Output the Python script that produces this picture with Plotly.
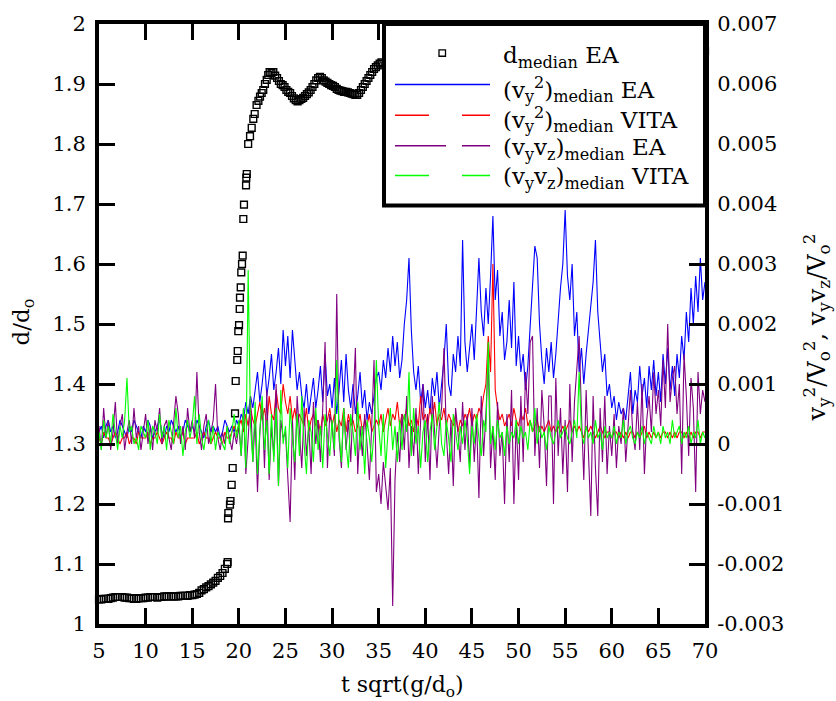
import numpy as np
import plotly.graph_objects as go

FONT = "DejaVu Serif"

# ---------------- data ----------------
# d_median EA (left axis)
D_T_FLAT = np.arange(5.0, 18.76, 0.25)
D_FLAT = [1.041, 1.041, 1.042, 1.042, 1.042, 1.043, 1.044, 1.045, 1.045, 1.045,
          1.045, 1.044, 1.044, 1.043, 1.043, 1.042, 1.042, 1.043, 1.043, 1.043,
          1.044, 1.044, 1.045, 1.045, 1.045, 1.044, 1.045, 1.045, 1.046, 1.046,
          1.046, 1.046, 1.046, 1.046, 1.046, 1.047, 1.047, 1.047, 1.047, 1.048,
          1.048, 1.049, 1.050, 1.052, 1.056, 1.058, 1.061, 1.063, 1.066, 1.069,
          1.072, 1.077, 1.080, 1.085, 1.092, 1.100]
D_T_RISE = [18.8, 18.84, 18.87, 19.05, 19.1, 19.23, 19.34, 19.59, 19.66, 19.83,
            19.88, 19.94, 20.02, 20.09, 20.12, 20.2, 20.26, 20.34, 20.41, 20.48,
            20.55, 20.77, 20.8, 20.85]
D_RISE = [1.103, 1.176, 1.185, 1.199, 1.205, 1.232, 1.26, 1.351, 1.405, 1.44,
          1.455, 1.488, 1.498, 1.525, 1.544, 1.561, 1.586, 1.6, 1.614, 1.675,
          1.699, 1.731, 1.744, 1.75]
D_T_PLAT = [21.0, 21.2, 21.38, 21.55, 21.7, 21.9, 22.1, 22.27, 22.45, 22.62,
            22.8, 22.99, 23.15, 23.3, 23.5, 23.7, 23.9, 24.1, 24.3, 24.5,
            24.7, 24.9, 25.1, 25.3, 25.5, 25.7, 25.9, 26.1, 26.3, 26.5,
            26.7, 26.9, 27.1, 27.3, 27.5, 27.7, 27.9, 28.1, 28.3, 28.5,
            28.7, 28.9, 29.1, 29.3, 29.5, 29.7, 29.9, 30.1, 30.3, 30.5,
            30.7, 30.9, 31.1, 31.3, 31.5, 31.7, 31.9, 32.1, 32.3, 32.5,
            32.7, 32.9, 33.1, 33.3, 33.5, 33.7, 33.9, 34.1, 34.3, 34.5,
            34.7, 34.9, 35.1, 35.3]
D_PLAT = [1.80, 1.813, 1.827, 1.842, 1.85, 1.865, 1.872, 1.879, 1.885, 1.89,
          1.90, 1.907, 1.915, 1.92, 1.918, 1.92, 1.914, 1.91, 1.905, 1.90,
          1.898, 1.895, 1.89, 1.887, 1.885, 1.88, 1.876, 1.873, 1.871, 1.873,
          1.875, 1.877, 1.88, 1.883, 1.886, 1.89, 1.895, 1.90, 1.906, 1.91,
          1.912, 1.91, 1.906, 1.904, 1.902, 1.90, 1.898, 1.897, 1.895, 1.892,
          1.89, 1.889, 1.888, 1.887, 1.887, 1.886, 1.885, 1.884, 1.883, 1.882,
          1.882, 1.885, 1.89, 1.895, 1.90, 1.905, 1.91, 1.915, 1.92, 1.925,
          1.928, 1.931, 1.934, 1.936]
D_T_LATE = np.arange(36.0, 70.01, 1.0)
D_LATE = [1.938, 1.94, 1.942, 1.94, 1.943, 1.945, 1.944, 1.946, 1.948, 1.947,
          1.945, 1.948, 1.95, 1.949, 1.951, 1.95, 1.952, 1.95, 1.953, 1.952,
          1.951, 1.953, 1.954, 1.952, 1.953, 1.955, 1.954, 1.953, 1.955, 1.956,
          1.954, 1.955, 1.956, 1.955, 1.955]

D_T = list(D_T_FLAT) + D_T_RISE + D_T_PLAT + list(D_T_LATE)
D_VAL = D_FLAT + D_RISE + D_PLAT + D_LATE

# velocity statistics (right axis), in units of 1e-4, sampled every 0.25 from t=5
T_START, T_STEP, UNIT = 5.0, 0.25, 1e-4
BLUE = [2, 3, 1, 3, 4, 2, 3, 1, 2, 4, 3, 2, 1, 3, 2, 4, 3, 2, 1, 3,
        2, 4, 3, 1, 2, 3, 4, 2, 1, 3, 2, 4, 3, 2, 3, 1, 2, 4, 3, 2,
        3, 2, 4, 3, 2, 1, 3, 4, 2, 3, 2, 3, 1, 2, 4, 3, 2, 3, 2, 4,
        3, 5, 4, 7, 5, 8, 6, 9, 12, 7, 10, 14, 8, 11, 15, 9, 12, 16, 10, 19,
        13, 18, 11, 19, 14, 9, 12, 8, 6, 10, 5, 8, 11, 6, 9, 13, 7, 15, 8, 10,
        6, 11, 5, 9, 14, 7, 15, 9, 6, 10, 5, 8, 12, 6, 9, 4, 7, 5, 8, 11,
        12, 9, 14, 11, 16, 12, 18, 13, 17, 11, 14, 20, 24, 31, 19, 12, 9, 13, 7, 10,
        6, 9, 5, 11, 8, 12, 6, 10, 14, 20, 10, 8, 15, 12, 18, 13, 34, 17, 12, 16,
        20, 14, 24, 31, 22, 18, 26, 20, 28, 38, 24, 29, 18, 22, 14, 17, 24, 16, 27, 13,
        18, 12, 15, 9, 13, 20, 26, 33, 31, 20, 14, 10, 16, 12, 17, 11, 15, 21, 26, 30,
        39, 28, 24, 30, 18, 22, 12, 16, 10, 15, 19, 24, 27, 34, 22, 17, 12, 15, 8, 10,
        6, 8, 4, 7, 5, 6, 4, 8, 12, 5, 9, 7, 13, 8, 11, 6, 13, 9, 14, 8,
        12, 7, 15, 10, 16, 9, 13, 8, 15, 11, 18, 14, 22, 17, 26, 20, 28, 22, 31, 24,
        27]
RED = [1, 0, 2, 1, 1, 0, 1, 2, 1, 0, 1, 1, 2, 0, 1, 1, 0, 2, 1, 1,
       1, 2, 0, 1, 1, 2, 1, 0, 1, 2, 1, 1, 0, 2, 1, 1, 2, 0, 1, 1,
       1, 1, 2, 0, 1, 2, 1, 1, 0, 1, 2, 1, 1, 0, 2, 1, 1, 2, 3, 2,
       3, 4, 2, 5, 3, 6, 4, 3, 5, 7, 4, 6, 3, 8, 5, 4, 9, 6, 5, 10,
       7, 5, 8, 4, 6, 3, 5, 4, 3, 6, 2, 4, 5, 3, 4, 2, 5, 3, 4, 6,
       3, 5, 2, 4, 3, 6, 2, 5, 3, 4, 2, 3, 5, 2, 4, 3, 5, 2, 3, 4,
       3, 5, 2, 4, 6, 3, 5, 4, 7, 3, 5, 4, 6, 3, 4, 2, 5, 3, 8, 4,
       5, 3, 6, 4, 7, 3, 5, 4, 6, 3, 5, 4, 3, 5, 2, 4, 3, 5, 4, 6,
       3, 5, 4, 6, 5, 8, 10, 18, 12, 30, 9, 6, 4, 5, 3, 4, 5, 3, 6, 4,
       3, 5, 4, 6, 3, 4, 2, 3, 4, 2, 3, 2, 3, 4, 2, 3, 2, 3, 2, 3,
       2, 3, 4, 2, 3, 2, 3, 2, 1, 3, 2, 3, 2, 1, 2, 3, 2, 1, 2, 2,
       1, 2, 2, 1, 2, 1, 2, 1, 2, 2, 1, 2, 1, 2, 3, 1, 2, 1, 2, 1,
       2, 1, 2, 2, 1, 2, 1, 2, 1, 2, 2, 1, 2, 1, 2, 1, 2, 2, 1, 2,
       2]
PURPLE = [3, -1, 6, 1, 4, -1, 2, 7, 0, 3, 5, -1, 2, 4, 0, 6, 1, 3, -1, 2,
          5, 0, 3, -1, 4, 2, 6, 0, 3, 4, 1, -1, 4, 8, 5, 0, 3, -1, 6, 2,
          4, 1, 12, 2, -1, 3, 5, 0, 2, 4, 10, 1, -1, 2, 0, 3, 1, -1, 2, 0,
          3, -2, 6, -5, 1, 8, -3, 4, -8, 2, 7, -4, 9, -6, 3, -2, 10, -7, 4, 1,
          2, -5, -13, 4, -6, 8, 2, -4, 6, -2, 3, -5, 7, 0, 4, -3, 6, 17, -4, 5,
          3, -2, 25, 1, -4, 6, -1, 4, -3, 7, 16, -5, 3, -2, 5, 0, -6, 3, 14, -8,
          -5, -10, -3, -7, -11, -4, -27, -6, 2, -3, 5, -1, 8, -4, 3, -2, 6, -5, 4, 10,
          -3, 5, -6, 8, 1, -4, 3, 6, 16, 2, -5, 4, -7, 6, 2, -3, 7, -1, 5, -4,
          6, -3, 4, -9, 8, -2, 5, 14, -4, 3, -6, 7, -2, 2, -10, 5, -3, 9, -10, 4,
          -6, 8, -3, 12, 5, 17, 18, -2, 6, -4, 9, 3, -7, 8, 8, -10, 11, -2, 6, -5,
          4, -8, 10, -3, 7, 12, 18, 5, -6, 9, -2, -12, 8, -4, -12, 6, -3, 8, -5, 3,
          -2, 5, -4, 3, 0, 6, -3, 4, 9, 2, -1, 7, -1, 10, -5, 4, 8, 2, 12, 5,
          9, 3, 14, 6, 20, 7, 11, 13, 5, 10, -5, 15, 8, -2, 11, 6, -8, 12, 5, 9,
          7]
GREEN = [2, -1, 4, 1, 3, 0, 5, 2, -1, 3, 1, 4, 11, 2, 3, 0, 1, -1, 3, 2,
         1, 4, -1, 3, 2, 0, 5, 1, 3, -1, 4, 2, 0, 6, 1, 3, -2, 2, 4, 1,
         3, 8, 0, 5, 1, -1, 2, 4, 0, 3, -1, 2, 1, 0, -1, 3, 0, 2, 5, 1,
         4, -2, 6, -4, 29, 3, -3, 7, -5, 2, 8, -1, 4, -5, 5, -3, 6, -7, 9, 0,
         3, -4, 6, 1, -3, 5, -2, 8, 0, -5, 4, 2, -3, 6, -1, 3, -4, 5, 1, -2,
         4, -1, 14, 2, -3, 6, 0, -4, 5, 2, -2, 7, -1, 3, -5, 4, 1, -3, 2, 14,
         3, -2, 5, -4, 2, 6, -1, 3, -3, 4, -1, 5, 2, 12, -2, 6, 0, 3, -4, 2,
         4, -3, 2, 5, -1, 3, 7, 0, -2, 4, 1, -3, 5, 2, -1, 3, 0, 4, 1, -5,
         3, 0, 5, 1, -2, 4, 2, 17, 0, 3, -1, 4, 1, 2, -2, 3, 0, 2, 1, 4,
         0, 3, 1, 2, -1, 4, 2, 6, 0, 3, 1, 2, -1, 3, 1, 0, 2, 4, 1, 2,
         3, 1, 0, 2, 4, 1, 12, 2, 0, 3, 1, 2, 0, 4, 1, 2, -1, 3, 1, 2,
         1, 3, 0, 2, 1, 4, 0, 2, 3, 1, 0, 2, 1, 3, 0, 2, 1, 0, 3, 1,
         2, 0, 3, 1, 2, 0, 4, 1, 2, 3, 0, 2, 1, 3, 0, 2, 1, 4, 0, 2,
         1]

X_TICKS = [5, 10, 15, 20, 25, 30, 35, 40, 45, 50, 55, 60, 65, 70]
Y_TICKS = [1.0, 1.1, 1.2, 1.3, 1.4, 1.5, 1.6, 1.7, 1.8, 1.9, 2.0]
Y_LABELS = ["1", "1.1", "1.2", "1.3", "1.4", "1.5", "1.6", "1.7", "1.8", "1.9", "2"]
Y2_TICKS = [-0.003, -0.002, -0.001, 0.0, 0.001, 0.002, 0.003, 0.004, 0.005, 0.006, 0.007]
Y2_LABELS = ["-0.003", "-0.002", "-0.001", "0", "0.001", "0.002", "0.003",
             "0.004", "0.005", "0.006", "0.007"]

SERIES = [
    ("(v<sub>y</sub><sup>2</sup>)<sub>median</sub> EA", BLUE, "#0000ff", None),
    ("(v<sub>y</sub><sup>2</sup>)<sub>median</sub> VITA", RED, "#ff0000", "34px,33px"),
    ("(v<sub>y</sub>v<sub>z</sub>)<sub>median</sub> EA", PURPLE, "#800080", "51px,16px"),
    ("(v<sub>y</sub>v<sub>z</sub>)<sub>median</sub> VITA", GREEN, "#00ff00", "34px,33px"),
]
FS_TICK, FS_LEG, FS_XT, FS_YT, FS_Y2T = 21, 23, 22, 23, 24

# ---------------- figure ----------------
T = T_START + T_STEP * np.arange(len(BLUE))
fig = go.Figure()
fig.add_trace(go.Scatter(
    x=D_T, y=D_VAL, mode="markers", name="d<sub>median</sub> EA", yaxis="y",
    cliponaxis=False,
    marker=dict(symbol="square-open", size=6.8, color="black",
                line=dict(width=1.4, color="black"))))
for name, vals, col, dash in SERIES:
    fig.add_trace(go.Scatter(
        x=T, y=np.array(vals) * UNIT, mode="lines", name=name, yaxis="y2",
        line=dict(color=col, width=1.1)))

axis_common = dict(ticks="inside", ticklen=16, tickwidth=3, tickcolor="black",
                   showline=True, linewidth=4, linecolor="black",
                   showgrid=False, zeroline=False,
                   tickfont=dict(family=FONT, size=FS_TICK, color="black"))

fig.update_layout(
    width=836, height=701,
    margin=dict(l=99, r=131, t=19, b=77),
    paper_bgcolor="white", plot_bgcolor="white",
    font=dict(family=FONT, size=FS_TICK, color="black"),
    showlegend=False,
    xaxis=dict(range=[5, 70], tickvals=X_TICKS, ticktext=[str(v) for v in X_TICKS],
               mirror="ticks", ticklabelstandoff=5, **axis_common),
    yaxis=dict(range=[1, 2], tickvals=Y_TICKS, ticktext=Y_LABELS,
               ticklabelstandoff=5, **axis_common),
    yaxis2=dict(range=[-0.003, 0.007], tickvals=Y2_TICKS, ticktext=Y2_LABELS,
                overlaying="y", side="right", ticklabelstandoff=4, **axis_common),
)

# plot-area geometry in pixels (for placing the hand-drawn legend box)
PX0, PX1, PY0, PY1 = 99, 705, 19, 624
def px(x):
    return (x - PX0) / (PX1 - PX0)
def py(y):
    return (PY1 - y) / (PY1 - PY0)

shapes = [dict(type="rect", xref="paper", yref="paper", x0=px(384), x1=1.0,
               y0=py(202), y1=1.0, line=dict(color="black", width=4),
               fillcolor="white", layer="above")]
# legend symbol: square marker
shapes.append(dict(type="rect", xref="paper", yref="paper",
                   x0=px(439), x1=px(445.5), y0=py(51.5), y1=py(45),
                   line=dict(color="black", width=1.3), fillcolor="white", layer="above"))
row_line_y = [80, 111, 141.7, 171.7]
for (name, vals, col, dash), yy in zip(SERIES, row_line_y):
    ln = dict(color=col, width=1.5)
    if dash:
        ln["dash"] = dash
    shapes.append(dict(type="line", xref="paper", yref="paper",
                       x0=px(395), x1=px(490), y0=py(yy), y1=py(yy),
                       line=ln, layer="above"))

legend_names = ["d<sub>median</sub> EA"] + [s[0] for s in SERIES]
row_text_y = [52, 85, 115, 145, 174]
annotations = []
for name, yy in zip(legend_names, row_text_y):
    annotations.append(dict(text=name, xref="paper", yref="paper", x=px(501), y=py(yy),
                            xanchor="left", yanchor="middle", showarrow=False,
                            font=dict(family=FONT, size=FS_LEG, color="black")))

annotations += [
    dict(text="t sqrt(g/d<sub>o</sub>)", xref="paper", yref="paper", x=0.5, y=py(687),
         xanchor="center", yanchor="middle", showarrow=False,
         font=dict(family=FONT, size=FS_XT, color="black")),
    dict(text="d/d<sub>o</sub>", xref="paper", yref="paper", x=px(23), y=py(320),
         xanchor="center", yanchor="middle", showarrow=False, textangle=-90,
         font=dict(family=FONT, size=FS_YT, color="black")),
    dict(text="v<sub>y</sub><sup>2</sup>/V<sub>o</sub><sup>2</sup>, v<sub>y</sub>v<sub>z</sub>/V<sub>o</sub><sup>2</sup>",
         xref="paper", yref="paper", x=px(816), y=py(325),
         xanchor="center", yanchor="middle", showarrow=False, textangle=-90,
         font=dict(family=FONT, size=FS_Y2T, color="black")),
]
fig.update_layout(shapes=shapes, annotations=annotations)

fig.write_html("out.html")
